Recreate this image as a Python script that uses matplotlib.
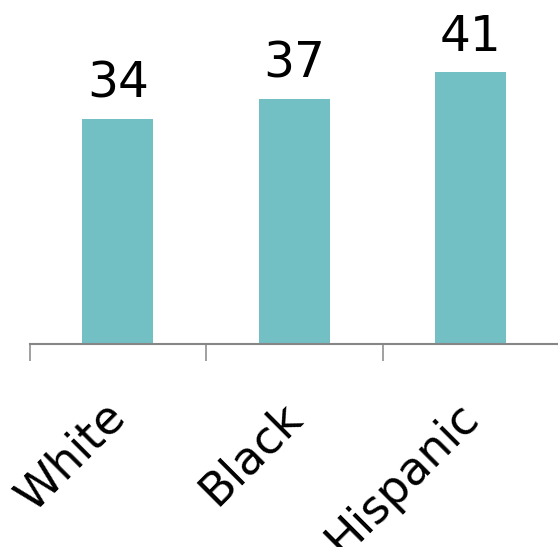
import matplotlib.pyplot as plt

# data
groups = ["White", "Black", "Hispanic"]
values = [34, 37, 41]

fig = plt.figure(figsize=(5.58, 5.47), dpi=100)
ax = fig.add_axes([29.5 / 558, (547 - 344) / 547, 529.5 / 558, 298 / 547])

x = range(len(groups))
bars = ax.bar(x, values, width=0.4, color="#72BFC4")

for b, v in zip(bars, values):
    ax.text(b.get_x() + b.get_width() / 2, v + 1.7, str(v), ha="center", va="bottom",
            fontsize=35, color="black")

# category labels, rotated 45 deg
for i, g in enumerate(groups):
    ax.annotate(g, xy=(i, 0), xycoords=("data", "axes fraction"),
                xytext=(-15, -50), textcoords="offset pixels",
                rotation=45, rotation_mode="anchor", ha="right", va="top",
                fontsize=33, annotation_clip=False)

ax.set_xlim(-0.5, 2.5)
ax.set_ylim(0, 45)
ax.set_yticks([])
ax.set_xticks([-0.5, 0.5, 1.5, 2.5])
ax.set_xticklabels([])
ax.tick_params(axis="x", which="major", length=12.5, width=1.1, color="#868686")

for s in ["top", "right", "left"]:
    ax.spines[s].set_visible(False)
ax.spines["bottom"].set_color("#868686")
ax.spines["bottom"].set_linewidth(1.5)

fig.savefig("out.png", dpi=100)
